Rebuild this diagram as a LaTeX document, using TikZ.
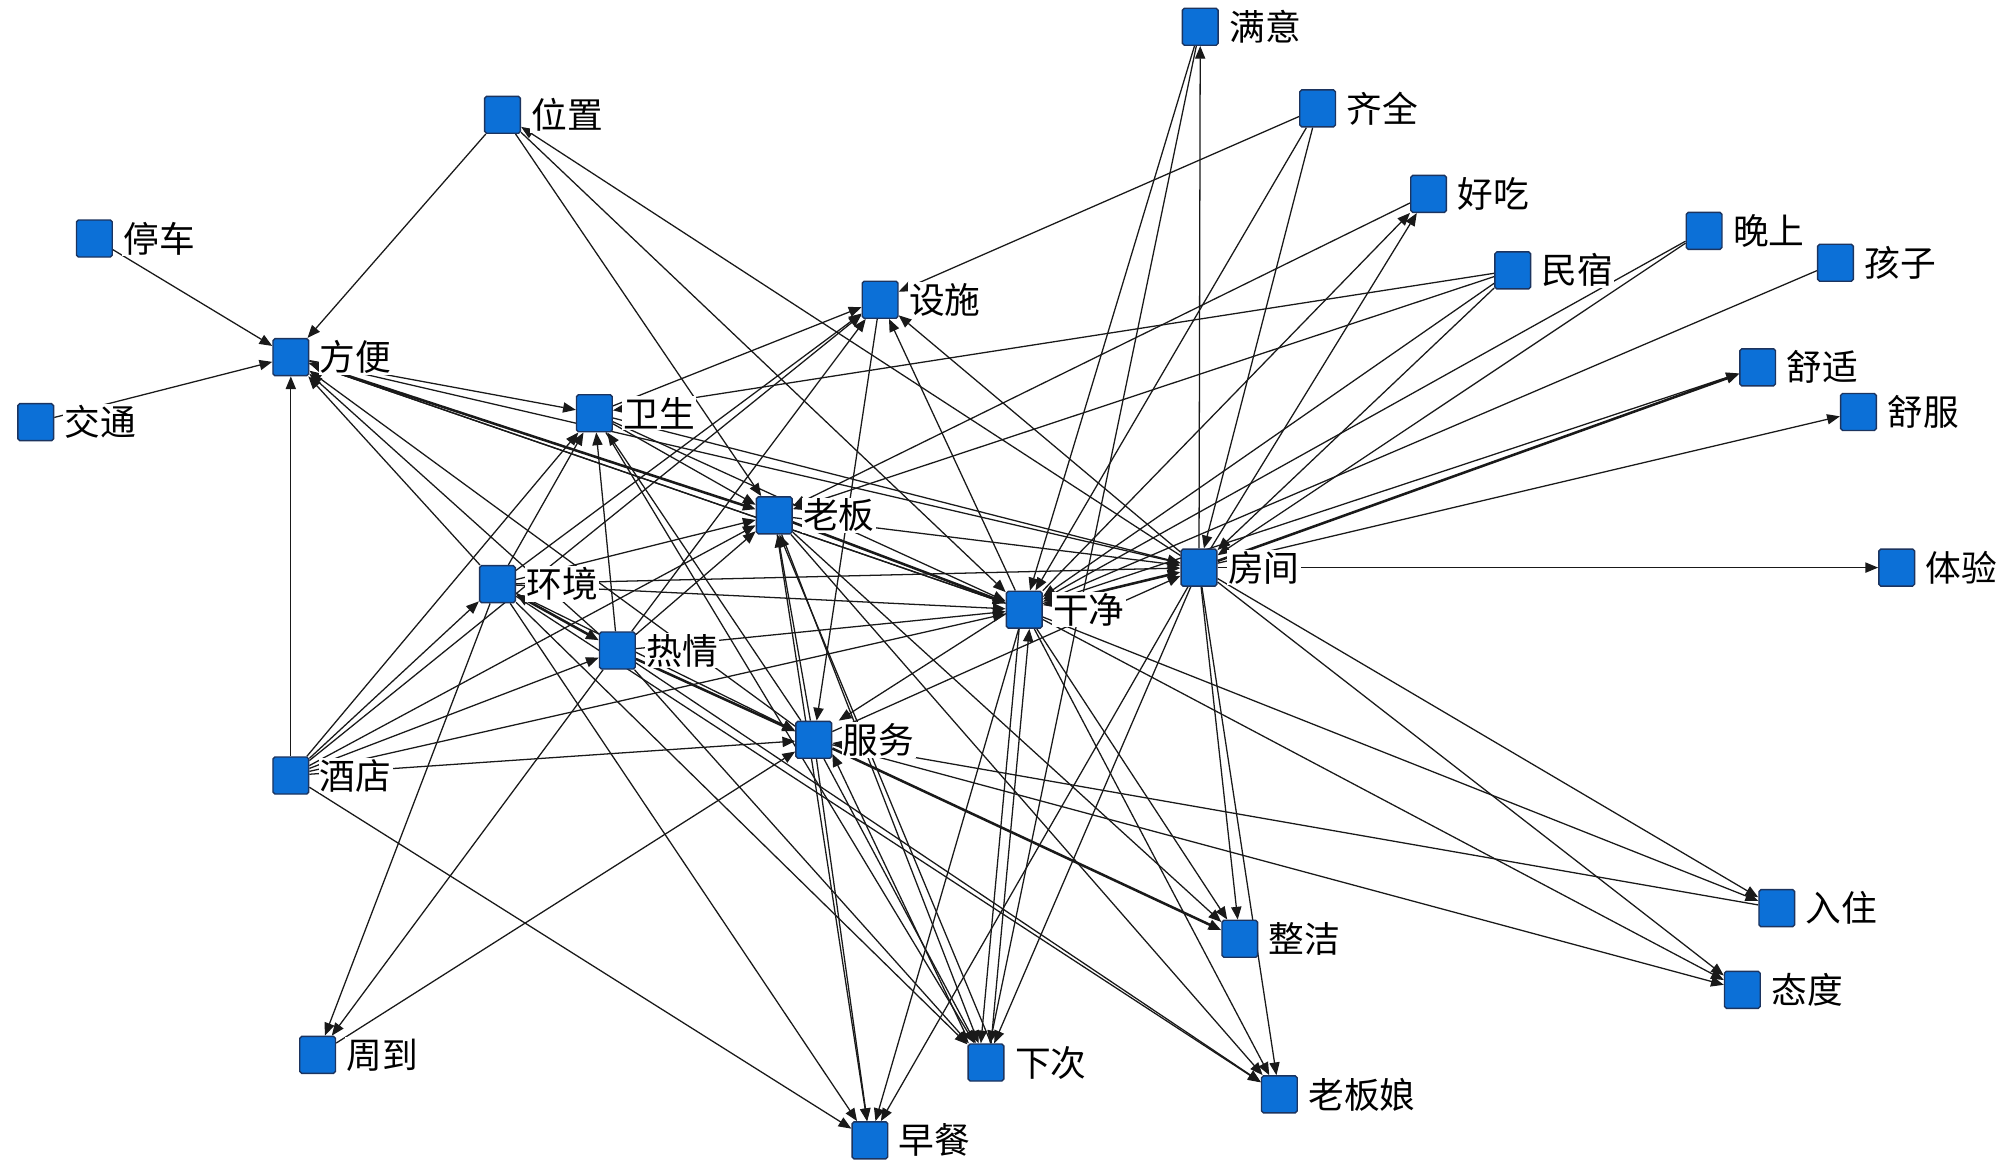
\documentclass[tikz,border=0pt]{standalone}
\usepackage{fontspec}
\newfontfamily\cjk{Noto Sans CJK SC}
\usetikzlibrary{arrows.meta}
\pgfdeclarelayer{bg}
\pgfsetlayers{bg,main}
\definecolor{nodeblue}{RGB}{12,112,215}
\definecolor{nodeedge}{RGB}{28,52,95}
\newcommand\mknode[4]{\node[sq] (#1) at (#2,#3) {}; \node[lab] (#1-l) at ([xshift=7pt]#1.east) {#4};}
\begin{document}
\begin{tikzpicture}[x=1pt,y=-1pt,
  sq/.style={draw=nodeedge,fill=nodeblue,line width=1.1pt,rounded corners=1.5pt,minimum width=28pt,minimum height=29pt,inner sep=0pt},
  lab/.style={fill=white,inner sep=1pt,anchor=west,font=\cjk\fontsize{28}{30}\selectfont},
  lnk/.style={draw=black!90,line width=1pt,-{Triangle[length=10pt,width=8pt]}},
  hv/.style={lnk,line width=2pt},
  hvb/.style={hv,{Triangle[length=10pt,width=8pt]}-{Triangle[length=10pt,width=8pt]}}]
\useasboundingbox (0,0) rectangle (1568,912);
\mknode{my}{941}{21}{满意}
\mknode{qq}{1033}{85}{齐全}
\mknode{wz}{394}{90}{位置}
\mknode{hc}{1120}{152}{好吃}
\mknode{tc}{74}{187}{停车}
\mknode{ws}{1336}{181}{晚上}
\mknode{hz}{1439}{206}{孩子}
\mknode{mx}{1186}{212}{民宿}
\mknode{ss}{690}{235}{设施}
\mknode{fb}{228}{280}{方便}
\mknode{sh}{1378}{288}{舒适}
\mknode{jt}{28}{331}{交通}
\mknode{sf}{1457}{323}{舒服}
\mknode{wsh}{466}{324}{卫生}
\mknode{lb}{607}{404}{老板}
\mknode{fj}{940}{445}{房间}
\mknode{ty}{1487}{445}{体验}
\mknode{hj}{390}{458}{环境}
\mknode{gj}{803}{478}{干净}
\mknode{rq}{484}{510}{热情}
\mknode{fw}{638}{580}{服务}
\mknode{jd}{228}{608}{酒店}
\mknode{rz}{1393}{712}{入住}
\mknode{zj}{972}{736}{整洁}
\mknode{td}{1366}{776}{态度}
\mknode{zd}{249}{827}{周到}
\mknode{xc}{773}{833}{下次}
\mknode{lbn}{1003}{858}{老板娘}
\mknode{zc}{682}{894}{早餐}
\begin{pgfonlayer}{bg}
\fill[white] (0,0) rectangle (1568,912);
\foreach \a/\b in {tc/fb, jt/fb, jd/fb, wz/fb, fj/wz, wz/lb, wz/gj,
  fj/my, my/gj, my/xc, qq/ss, qq/fj, qq/gj, fj/hc, gj/hc, hc/lb,
  mx/lb, mx/wsh, mx/gj, mx/fj, ws/gj, ws/fj, hz/gj,
  gj/sh, fj/sf, fj/ty, fj/rz, gj/rz, rz/fw, fj/td, gj/td, fw/td,
  fj/zj, gj/zj, lb/zj, fj/lbn, gj/lbn, hj/lbn, rq/lbn, lb/lbn,
  fj/xc, fw/xc, rq/xc, hj/xc, lb/xc, wsh/xc,
  jd/zc, hj/zc, fw/zc, lb/zc, gj/zc, fj/zc,
  hj/zd, rq/zd, zd/fw,
  jd/hj, jd/wsh, jd/ss, jd/rq, jd/lb, jd/gj, jd/fw,
  hj/fb, hj/wsh, hj/lb, hj/gj, hj/fj, hj/ss, hj/fw,
  rq/fb, rq/wsh, rq/lb, rq/gj, rq/ss,
  fb/wsh, wsh/ss, wsh/lb, wsh/gj, wsh/fj, fw/wsh,
  fb/gj, fb/fj, lb/fj, fw/lb,
  gj/ss, fj/ss, ss/fw, fw/fb, fw/fj, gj/fb}
  \draw[lnk] (\a) -- (\b);
\foreach \a/\b in {fj/sh, fw/zj, rq/fw, lb/gj}
  \draw[hv] (\a) -- (\b);
\foreach \a/\b in {fb/lb, rq/hj, gj/fj}
  \draw[hvb] (\a) -- (\b);
\draw[lnk] ([xshift=-4pt]gj.south) -- ([xshift=-4pt]xc.north);
\draw[lnk] ([xshift=4pt]xc.north) -- ([xshift=4pt]gj.south);
\draw[lnk] ([xshift=5pt]gj.west) -- ([xshift=5pt]fw.north east);
\draw[lnk] ([yshift=4pt]xc.north west) -- ([yshift=4pt]fw.south east);
\draw[lnk] ([xshift=4pt]xc.north) -- ([xshift=4pt]lb.south);
\end{pgfonlayer}
\end{tikzpicture}
\end{document}
